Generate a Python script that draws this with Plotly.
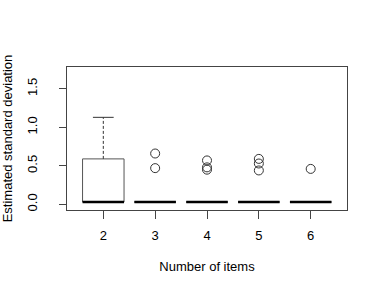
import plotly.graph_objects as go

categories = ["2", "3", "4", "5", "6"]
q1 = [0.03, 0.03, 0.03, 0.03, 0.03]
median = [0.03, 0.03, 0.03, 0.03, 0.03]
q3 = [0.59, 0.03, 0.03, 0.03, 0.03]
lower_whisker = [0.03, 0.03, 0.03, 0.03, 0.03]
upper_whisker = [1.13, 0.03, 0.03, 0.03, 0.03]
outliers = [[], [0.66, 0.47], [0.57, 0.48, 0.45], [0.59, 0.53, 0.44], [0.46]]

pos = list(range(1, len(categories) + 1))
hw = 0.4
sw = 0.2

fig = go.Figure()
font = "Liberation Sans, Arial, sans-serif"

for i, p in enumerate(pos):
    fig.add_trace(go.Scatter(
        x=[p - hw, p + hw, p + hw, p - hw, p - hw],
        y=[q1[i], q1[i], q3[i], q3[i], q1[i]],
        mode="lines", line=dict(color="#555555", width=1),
        fill="toself", fillcolor="white", showlegend=False, hoverinfo="skip"))
    if upper_whisker[i] > q3[i]:
        fig.add_trace(go.Scatter(x=[p, p], y=[q3[i], upper_whisker[i]], mode="lines",
                                 line=dict(color="#333333", width=1, dash="3px,2px"),
                                 showlegend=False, hoverinfo="skip"))
        fig.add_trace(go.Scatter(x=[p - sw, p + sw], y=[upper_whisker[i]] * 2, mode="lines",
                                 line=dict(color="#333333", width=1),
                                 showlegend=False, hoverinfo="skip"))
    if lower_whisker[i] < q1[i]:
        fig.add_trace(go.Scatter(x=[p, p], y=[lower_whisker[i], q1[i]], mode="lines",
                                 line=dict(color="#333333", width=1, dash="3px,2px"),
                                 showlegend=False, hoverinfo="skip"))
        fig.add_trace(go.Scatter(x=[p - sw, p + sw], y=[lower_whisker[i]] * 2, mode="lines",
                                 line=dict(color="#333333", width=1),
                                 showlegend=False, hoverinfo="skip"))
    fig.add_trace(go.Scatter(x=[p - hw, p + hw], y=[median[i]] * 2, mode="lines",
                             line=dict(color="black", width=2.5),
                             showlegend=False, hoverinfo="skip"))
    if outliers[i]:
        fig.add_trace(go.Scatter(x=[p] * len(outliers[i]), y=outliers[i], mode="markers",
                                 marker=dict(symbol="circle-open", size=9, color="#333333",
                                             line=dict(width=1)),
                                 showlegend=False, hoverinfo="skip"))

fig.update_layout(
    width=382, height=294,
    margin=dict(l=67, r=35, t=67, b=84, autoexpand=False),
    paper_bgcolor="white", plot_bgcolor="white",
    font=dict(family=font, size=13, color="black"),
    xaxis=dict(range=[0.3, 5.7], tickvals=pos, ticktext=categories,
               showgrid=False, zeroline=False, showline=True, mirror=True,
               linecolor="#444444", linewidth=1, ticks="outside", ticklen=8,
               tickcolor="#444444", automargin=False,
               title=dict(text="Number of items", standoff=20,
                          font=dict(family=font, size=13, color="black")),
               tickfont=dict(size=13), ticklabelstandoff=5),
    yaxis=dict(range=[-0.074, 1.784], tickvals=[0, 0.5, 1.0, 1.5],
               ticktext=["0.0", "0.5", "1.0", "1.5"], tickangle=-90,
               showgrid=False, zeroline=False, showline=True, mirror=True,
               linecolor="#444444", linewidth=1, ticks="outside", ticklen=7,
               tickcolor="#444444", automargin=False,
               title=dict(text="Estimated standard deviation", standoff=20,
                          font=dict(family=font, size=13, color="black")),
               tickfont=dict(size=13), ticklabelstandoff=17),
)

fig.write_html("out.html",
               config={"displayModeBar": False, "staticPlot": True},
               post_script="document.body.style.margin='0';document.body.style.overflow='hidden';")
